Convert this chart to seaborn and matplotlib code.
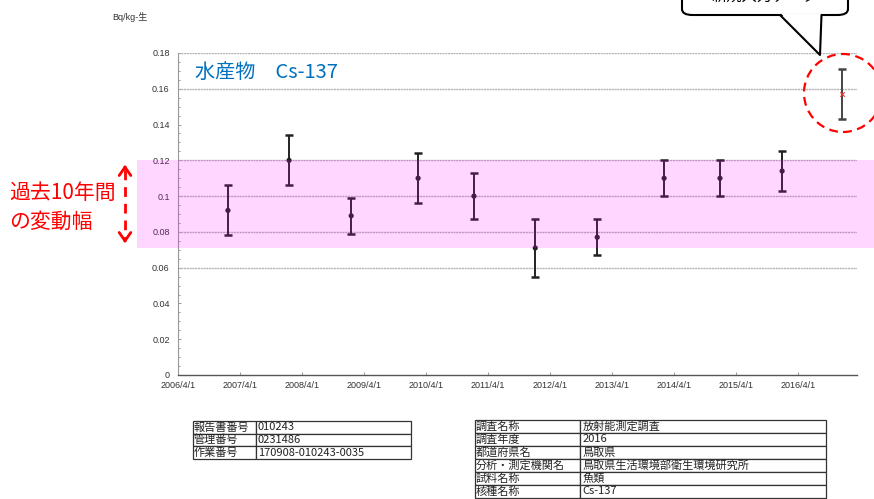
import numpy as np
import pandas as pd
import matplotlib
matplotlib.use("Agg")
import matplotlib.pyplot as plt
import matplotlib.dates as mdates
import seaborn as sns
from matplotlib.patches import FancyBboxPatch, Polygon, Ellipse
from matplotlib.lines import Line2D
from matplotlib.ticker import MultipleLocator, FuncFormatter

# Measured values (Bq/kg raw) with uncertainty range
sample_dates = ["2007-01-20", "2008-01-15", "2009-01-15", "2010-02-13", "2011-01-08",
                "2012-01-04", "2013-01-03", "2014-02-01", "2014-12-27", "2015-12-28",
                "2016-12-17"]
values = [0.092, 0.120, 0.089, 0.110, 0.100, 0.071, 0.077, 0.110, 0.110, 0.114, 0.157]
lower = [0.078, 0.106, 0.079, 0.096, 0.087, 0.055, 0.067, 0.100, 0.100, 0.103, 0.143]
upper = [0.106, 0.134, 0.099, 0.124, 0.113, 0.087, 0.087, 0.120, 0.120, 0.125, 0.171]
is_new = [False] * 10 + [True]

# Range of the past 10 years
band_low, band_high = 0.071, 0.120

tick_years = list(range(2006, 2017))
grid_levels = [0.06, 0.08, 0.10, 0.12, 0.16, 0.18]

table1 = [["報告書番号", "010243"],
          ["管理番号", "0231486"],
          ["作業番号", "170908-010243-0035"]]
table2 = [["調査名称", "放射能測定調査"],
          ["調査年度", "2016"],
          ["都道府県名", "鳥取県"],
          ["分析・測定機関名", "鳥取県生活環境部衛生環境研究所"],
          ["試料名称", "魚類"],
          ["核種名称", "Cs-137"]]

df = pd.DataFrame({"date": pd.to_datetime(sample_dates), "value": values,
                   "lower": lower, "upper": upper, "new": is_new})

W, H = 874, 499
CJK = ["Noto Sans CJK JP", "DejaVu Sans"]


def fx(x):
    return x / W


def fy(y):
    return 1 - y / H


sns.set_theme(style="white")
plt.rcParams["font.family"] = ["Liberation Sans", "Noto Sans CJK JP", "DejaVu Sans"]

fig = plt.figure(figsize=(W / 100, H / 100), dpi=100)
ax = fig.add_axes([fx(178), fy(375), fx(857) - fx(178), fy(53) - fy(375)])

for g in grid_levels:
    ax.axhline(g, color="#b4b4b4", lw=1.0, ls=(0, (1.5, 0.5)), zorder=1)

old = df[~df["new"]]
new = df[df["new"]]
ax.errorbar(old["date"], old["value"],
            yerr=[old["value"] - old["lower"], old["upper"] - old["value"]],
            fmt="none", ecolor="#222222", elinewidth=1.4, capsize=3, capthick=1.8, zorder=3)
ax.errorbar(new["date"], new["value"],
            yerr=[new["value"] - new["lower"], new["upper"] - new["value"]],
            fmt="none", ecolor="#444444", elinewidth=1.4, capsize=3, capthick=1.8, zorder=3)
sns.scatterplot(data=old, x="date", y="value", ax=ax, color="#222222", s=14,
                edgecolor="none", zorder=4, legend=False)
sns.scatterplot(data=new, x="date", y="value", ax=ax, color="#ff3030", marker="x", s=10,
                linewidth=0.8, zorder=4, legend=False)

# past-10-year band, spills outside the axes on both sides
ax.axhspan(band_low, band_high, xmin=(137 - 178) / 679, xmax=(874 - 178) / 679,
           color="#ff00ff", alpha=0.16, lw=0, zorder=5, clip_on=False)

ax.set_xlim(pd.Timestamp("2006-04-01"), pd.Timestamp("2017-03-13"))
ax.set_ylim(0, 0.18)
ax.set_xticks([pd.Timestamp(f"{y}-04-01") for y in tick_years])
ax.xaxis.set_major_formatter(FuncFormatter(lambda v, p: f"{mdates.num2date(v).year}/4/1"))
ax.yaxis.set_major_locator(MultipleLocator(0.02))
ax.yaxis.set_minor_locator(MultipleLocator(0.005))
ax.yaxis.set_major_formatter(FuncFormatter(lambda v, p: f"{v:.2f}".rstrip("0").rstrip(".") if v else "0"))
ax.tick_params(axis="both", which="both", direction="in", labelsize=6.5, colors="#888888",
               labelcolor="#333333", length=2.5, width=0.6, left=True, bottom=True)
ax.tick_params(axis="y", which="minor", length=1.5)
ax.tick_params(axis="y", pad=6)
ax.tick_params(axis="x", pad=4)
ax.set_xlabel("")
ax.set_ylabel("")
for side in ["top", "right"]:
    ax.spines[side].set_visible(False)
ax.spines["left"].set_color("#999999")
ax.spines["left"].set_linewidth(0.8)
ax.spines["bottom"].set_color("#555555")
ax.spines["bottom"].set_linewidth(1.0)

fig.text(fx(195), fy(72), "水産物　Cs-137", color="#0070c0",
         fontsize=14.5, ha="left", va="center", family=CJK)

fig.text(fx(112), fy(17), "Bq/kg-生", fontsize=6.5, color="#333333", ha="left", va="center")

# left annotation
fig.text(fx(9), fy(193), "過去10年間", fontsize=15, color="#ff0000", ha="left", va="center",
         family=CJK)
fig.text(fx(9), fy(222), "の変動幅", fontsize=15, color="#ff0000", ha="left", va="center",
         family=CJK)
fig.add_artist(Line2D([fx(125), fx(125)], [fy(170), fy(238)], transform=fig.transFigure,
                      color="#ff0000", lw=2, ls=(0, (3.5, 2.5))))
for y0, y1 in [(172, 162), (236, 246)]:
    ax.annotate("", xy=(fx(125), fy(y1)), xytext=(fx(125), fy(y0)),
                xycoords="figure fraction", textcoords="figure fraction",
                arrowprops=dict(arrowstyle="->,head_length=0.5,head_width=0.35",
                                color="#ff0000", lw=2))

# dashed circle around the new value
fig.add_artist(Ellipse((fx(843), fy(93)), width=78 / W, height=78 / H,
                       transform=fig.transFigure, fill=False, edgecolor="#ff0000",
                       lw=1.6, ls=(0, (4, 2.5))))

# callout box at top (its text runs off the top edge, as in the source)
box = FancyBboxPatch((fx(682), fy(15)), fx(848) - fx(682), fy(-20) - fy(15),
                     boxstyle="round,pad=0,rounding_size=0.012", transform=fig.transFigure,
                     facecolor="white", edgecolor="black", lw=1.5)
fig.add_artist(box)
fig.add_artist(Polygon([(fx(781), fy(13.5)), (fx(820), fy(55)), (fx(821), fy(13.5))],
                       closed=True, transform=fig.transFigure, facecolor="white",
                       edgecolor="none"))
fig.add_artist(Line2D([fx(780), fx(820), fx(821.5)], [fy(15), fy(55), fy(15)],
                      transform=fig.transFigure, color="black", lw=1.5))
fig.text(fx(765), fy(5), "新規入力データ", fontsize=11, color="black", ha="center",
         va="bottom", family=CJK)


def draw_table(rows, x0, y0, x1, y1, first_col):
    tax = fig.add_axes([fx(x0), fy(y1), fx(x1) - fx(x0), fy(y0) - fy(y1)])
    tax.axis("off")
    tbl = tax.table(cellText=rows, colWidths=[first_col, 1 - first_col], cellLoc="left",
                    bbox=[0, 0, 1, 1])
    tbl.auto_set_font_size(False)
    for cell in tbl.get_celld().values():
        cell.set_edgecolor("#333333")
        cell.set_linewidth(0.9)
        cell.PAD = 0.01
        cell.get_text().set_fontsize(8)
        cell.get_text().set_family(CJK)
        cell.get_text().set_color("#222222")


draw_table(table1, 193, 421, 411, 459, 0.29)
draw_table(table2, 475, 420, 826, 498, 0.30)

fig.savefig("out.png", dpi=100)
